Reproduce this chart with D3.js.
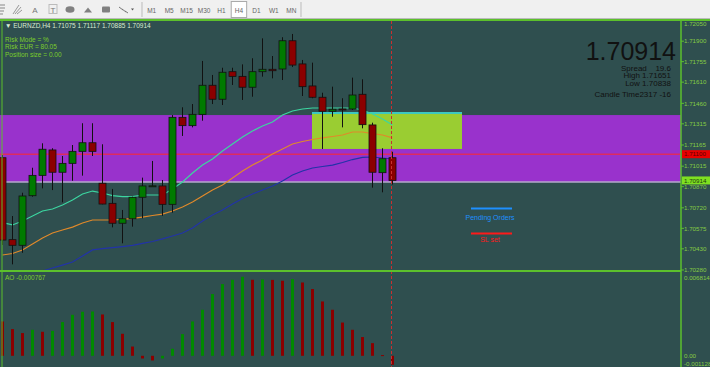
<!DOCTYPE html>
<html>
<head>
<meta charset="utf-8">
<script src="https://cdn.jsdelivr.net/npm/d3@7"></script>
<style>
body{margin:0;background:#2f4f4f;overflow:hidden;}
svg text{font-family:"Liberation Sans",Arial,sans-serif;}
</style>
</head>
<body>
<script>
// EURNZD H4 candles, oldest -> newest
var opens  = [1.71075,1.70495,1.70455,1.70806,1.70950,1.71130,1.70972,1.71035,1.71120,1.71181,1.70894,1.70752,1.70611,1.70643,1.70795,1.70875,1.70875,1.70745,1.71361,1.71302,1.71382,1.71588,1.71489,1.71684,1.71651,1.71574,1.71684,1.71701,1.71703,1.71903,1.71739,1.71583,1.71503,1.71404,1.71420,1.71420,1.71524,1.71307,1.70969,1.71075];
var highs  = [1.71094,1.70662,1.70827,1.71004,1.71177,1.71142,1.71087,1.71165,1.71319,1.71319,1.71170,1.70854,1.70705,1.70799,1.70934,1.71052,1.70917,1.71377,1.71432,1.71455,1.71760,1.71661,1.71712,1.71712,1.71736,1.71779,1.71920,1.71795,1.71928,1.71951,1.71767,1.71748,1.71535,1.71578,1.71496,1.71642,1.71630,1.71323,1.71142,1.71117];
var lows   = [1.70457,1.70320,1.70402,1.70799,1.70858,1.70846,1.70759,1.70912,1.70948,1.71087,1.70745,1.70582,1.70469,1.70587,1.70646,1.70870,1.70664,1.70686,1.71229,1.71290,1.71337,1.71455,1.71448,1.71590,1.71484,1.71507,1.71649,1.71637,1.71625,1.71717,1.71512,1.71496,1.71137,1.71365,1.71290,1.71413,1.71283,1.70863,1.70830,1.70885];
var closes = [1.70492,1.70455,1.70804,1.70950,1.71135,1.70972,1.71035,1.71120,1.71181,1.71120,1.70747,1.70611,1.70643,1.70795,1.70875,1.70876,1.70745,1.71361,1.71302,1.71382,1.71588,1.71489,1.71680,1.71651,1.71574,1.71684,1.71701,1.71691,1.71903,1.71731,1.71578,1.71503,1.71404,1.71418,1.71419,1.71519,1.71309,1.70972,1.71068,1.70914];

// moving averages
var maFast = [1.70616,1.70599,1.70627,1.70662,1.70698,1.70712,1.70740,1.70776,1.70818,1.70839,1.70825,1.70807,1.70800,1.70800,1.70811,1.70811,1.70811,1.70853,1.70903,1.70967,1.71023,1.71066,1.71122,1.71172,1.71222,1.71264,1.71300,1.71328,1.71377,1.71406,1.71420,1.71427,1.71427,1.71427,1.71427,1.71427,1.71413,1.71385,1.71349,1.71307];
var maMid  = [1.70386,1.70397,1.70422,1.70464,1.70507,1.70542,1.70563,1.70584,1.70613,1.70634,1.70634,1.70634,1.70638,1.70645,1.70655,1.70666,1.70676,1.70698,1.70726,1.70761,1.70804,1.70846,1.70882,1.70931,1.70981,1.71023,1.71059,1.71101,1.71137,1.71172,1.71190,1.71204,1.71215,1.71225,1.71236,1.71257,1.71257,1.71246,1.71236,1.71215];
var maSlow = [1.70138,1.70181,1.70216,1.70245,1.70273,1.70294,1.70315,1.70337,1.70379,1.70422,1.70432,1.70439,1.70446,1.70454,1.70468,1.70482,1.70500,1.70521,1.70542,1.70577,1.70627,1.70669,1.70705,1.70747,1.70786,1.70818,1.70846,1.70875,1.70910,1.70953,1.70981,1.71002,1.71013,1.71023,1.71041,1.71062,1.71077,1.71080,1.71073,1.71066];

// awesome oscillator
var ao = [0.00293,0.00228,0.00194,0.00222,0.00205,0.00213,0.00288,0.00350,0.00376,0.00378,0.00353,0.00288,0.00188,0.00079,-0.00023,-0.00040,-0.00023,0.00060,0.00185,0.00293,0.00393,0.00527,0.00612,0.00649,0.00675,0.00649,0.00652,0.00648,0.00641,0.00655,0.00626,0.00570,0.00464,0.00393,0.00284,0.00222,0.00160,0.00108,0.00006,-0.000767];

var priceTicks = ["1.72050","1.71900","1.71755","1.71610","1.71460","1.71315","1.71165","1.71015","1.70870","1.70720","1.70575","1.70430","1.70280"];
var aoTicks = ["0.006814","0.00","-0.001128"];
var timeframes = ["M1","M5","M15","M30","H1","H4","D1","W1","MN"];

var zone = [1.71377, 1.70903];      // purple zone top/bottom
var box = [1.71392, 1.71137];       // lime box top/bottom
var boxBars = [31, 46];
var redLevel = 1.71100;
var lastPrice = 1.70914;

var width = 710, height = 367;
var axisX = 681;
var green = "#5cc02c", labelCol = "#86cc44";

var svg = d3.select("body").append("svg")
    .attr("width", width)
    .attr("height", height);

var x = d3.scaleLinear().domain([0, 39]).range([2.5, 392.5]);
var y = d3.scaleLinear().domain([1.70280, 1.72050]).range([270, 20]);
var aoY = d3.scaleLinear().domain([-0.001128, 0.006814]).range([369, 276]);

svg.append("rect").attr("width", width).attr("height", height).attr("fill", "#2f4f4f");

var defs = svg.append("defs");
defs.append("clipPath").attr("id", "mainClip").append("rect")
    .attr("x", 0).attr("y", 21).attr("width", axisX).attr("height", 249);
defs.append("clipPath").attr("id", "aoClip").append("rect")
    .attr("x", 0).attr("y", 272).attr("width", axisX).attr("height", 95);

var main = svg.append("g").attr("clip-path", "url(#mainClip)");

//zone + box
main.append("rect")
    .attr("x", 0).attr("width", axisX)
    .attr("y", y(zone[0])).attr("height", y(zone[1]) - y(zone[0]))
    .attr("fill", "#9932cc");
main.append("line")
    .attr("x1", 0).attr("x2", axisX)
    .attr("y1", y(zone[1])).attr("y2", y(zone[1]))
    .attr("stroke", "#b4aacb").attr("stroke-width", 1.5);

main.append("rect")
    .attr("x", x(boxBars[0]) - 0.5).attr("width", x(boxBars[1]) - x(boxBars[0]))
    .attr("y", y(box[0])).attr("height", y(box[1]) - y(box[0]))
    .attr("fill", "#9acd32");
main.append("line")
    .attr("x1", x(boxBars[0]) - 0.5).attr("x2", x(boxBars[1]) - 0.5)
    .attr("y1", y(box[0])).attr("y2", y(box[0]))
    .attr("stroke", "#3cc8c0").attr("stroke-width", 2);

main.append("line")
    .attr("x1", 0).attr("x2", axisX)
    .attr("y1", y(redLevel)).attr("y2", y(redLevel))
    .attr("stroke", "#ff2a2a").attr("stroke-width", 1);

//moving averages
var line = d3.line().x(function(d, i) { return x(i); }).y(function(d) { return y(d); });
[[maSlow, "#2233a8"], [maMid, "#e0892a"], [maFast, "#3cd6a0"]].forEach(function(m) {
    main.append("path").datum(m[0])
        .attr("d", line)
        .attr("fill", "none")
        .attr("stroke", m[1])
        .attr("stroke-width", 1.2);
});

//candles
var idx = d3.range(opens.length);
main.selectAll(".wick").data(idx).enter().append("line")
    .attr("x1", function(i) { return x(i); }).attr("x2", function(i) { return x(i); })
    .attr("y1", function(i) { return y(highs[i]); })
    .attr("y2", function(i) { return y(lows[i]); })
    .attr("stroke", "#111").attr("stroke-width", 1);

main.selectAll(".body").data(idx).enter().append("rect")
    .attr("x", function(i) { return x(i) - 3.5; })
    .attr("width", 7)
    .attr("y", function(i) { return y(Math.max(opens[i], closes[i])); })
    .attr("height", function(i) { return Math.max(1, Math.abs(y(opens[i]) - y(closes[i]))); })
    .attr("fill", function(i) { return closes[i] >= opens[i] ? "#007a00" : "#8b0000"; })
    .attr("stroke", "#111").attr("stroke-width", 0.8);

//AO
var aoG = svg.append("g").attr("clip-path", "url(#aoClip)");
aoG.selectAll("rect").data(idx).enter().append("rect")
    .attr("x", function(i) { return x(i) - 1.5; })
    .attr("width", 3)
    .attr("y", function(i) { return Math.min(aoY(ao[i]), aoY(0)); })
    .attr("height", function(i) { return Math.max(1, Math.abs(aoY(ao[i]) - aoY(0))); })
    .attr("fill", function(i) { return i > 0 && ao[i] > ao[i - 1] ? "#008a00" : "#8b0000"; });

//current bar marker
svg.append("line")
    .attr("x1", x(39) - 1).attr("x2", x(39) - 1)
    .attr("y1", 21).attr("y2", height)
    .attr("stroke", "#c83030").attr("stroke-width", 1)
    .attr("stroke-dasharray", "3,2");

//pending orders objects
svg.append("line").attr("x1", 471).attr("x2", 512).attr("y1", 208.5).attr("y2", 208.5)
    .attr("stroke", "#1e90ff").attr("stroke-width", 2);
svg.append("text").attr("x", 490).attr("y", 220).attr("text-anchor", "middle")
    .attr("font-size", "7px").attr("fill", "#1e90ff").text("Pending Orders");
svg.append("line").attr("x1", 471).attr("x2", 512).attr("y1", 233.5).attr("y2", 233.5)
    .attr("stroke", "#ff1a1a").attr("stroke-width", 2);
svg.append("text").attr("x", 490).attr("y", 242).attr("text-anchor", "middle")
    .attr("font-size", "7px").attr("fill", "#ff1a1a").text("SL set");

//info text top left
svg.append("text").attr("x", 5).attr("y", 27.5).attr("font-size", "6.5px").attr("fill", "#d8ecd0")
    .text("\u25BC EURNZD,H4  1.71075 1.71117 1.70885 1.70914");
["Risk Mode =  %", "Risk EUR  =  80.05", "Position size  =  0.00"].forEach(function(t, i) {
    svg.append("text").attr("x", 5).attr("y", 41.5 + i * 7.8)
        .attr("font-size", "6.5px").attr("fill", "#7ccd2c").text(t);
});
svg.append("text").attr("x", 5).attr("y", 280).attr("font-size", "6.5px").attr("fill", "#7ccd2c")
    .text("AO -0.000767");

//big price block
svg.append("text").attr("x", 676).attr("y", 60).attr("text-anchor", "end")
    .attr("font-size", "25px").attr("fill", "#111").text("1.70914");
var info = svg.append("g").attr("font-size", "8px").attr("fill", "#111");
info.append("text").attr("x", 621).attr("y", 70.5).text("Spread");
info.append("text").attr("x", 671).attr("y", 70.5).attr("text-anchor", "end").text("19.6");
info.append("text").attr("x", 671).attr("y", 78).attr("text-anchor", "end").text("High 1.71651");
info.append("text").attr("x", 671).attr("y", 85.5).attr("text-anchor", "end").text("Low 1.70838");
info.append("text").attr("x", 671).attr("y", 96.5).attr("text-anchor", "end").text("Candle Time2317 -16");

//frame
svg.append("line").attr("x1", 0).attr("x2", width).attr("y1", 20).attr("y2", 20)
    .attr("stroke", green).attr("stroke-width", 2);
svg.append("line").attr("x1", 0).attr("x2", axisX).attr("y1", 271).attr("y2", 271)
    .attr("stroke", green).attr("stroke-width", 2);
svg.append("line").attr("x1", 2).attr("x2", 2).attr("y1", 20).attr("y2", height)
    .attr("stroke", green).attr("stroke-width", 1);
svg.append("line").attr("x1", axisX).attr("x2", axisX).attr("y1", 20).attr("y2", height)
    .attr("stroke", green).attr("stroke-width", 1.5);

//price axis
var ax = svg.append("g").attr("font-size", "6.2px");
priceTicks.forEach(function(t) {
    var yy = y(+t);
    ax.append("line").attr("x1", axisX).attr("x2", axisX + 3).attr("y1", yy).attr("y2", yy)
        .attr("stroke", green);
    ax.append("text").attr("x", 684).attr("y", Math.max(yy, 23.5)).attr("dy", "0.35em")
        .attr("fill", labelCol).text(t);
});
aoTicks.forEach(function(t) {
    var yy = Math.max(278, Math.min(364, aoY(+t)));
    ax.append("text").attr("x", 684).attr("y", yy).attr("dy", "0.35em")
        .attr("fill", labelCol).text(t);
});
ax.append("rect").attr("x", 682).attr("y", y(redLevel) - 4).attr("width", 28).attr("height", 8)
    .attr("fill", "#e80000");
ax.append("text").attr("x", 684).attr("y", y(redLevel)).attr("dy", "0.35em")
    .attr("fill", "#5a0000").text(redLevel.toFixed(5));
ax.append("rect").attr("x", 682).attr("y", y(lastPrice) - 4).attr("width", 28).attr("height", 8)
    .attr("fill", "#7fe020");
ax.append("text").attr("x", 684).attr("y", y(lastPrice)).attr("dy", "0.35em")
    .attr("fill", "#1a3a10").text(lastPrice.toFixed(5));

//toolbar
var tb = svg.append("g");
tb.append("rect").attr("width", width).attr("height", 18.5).attr("fill", "#f0f0f0");
tb.append("line").attr("x1", 0).attr("x2", width).attr("y1", 18.5).attr("y2", 18.5).attr("stroke", "#bbb");
tb.append("path").attr("d", "M0,5H5M0,8H5M0,11H4M0,14H3").attr("stroke", "#888").attr("fill", "none");
tb.append("path").attr("d", "M13,14L19,5M15,14L21,7M17,14L22,10").attr("stroke", "#999").attr("fill", "none");
tb.append("text").attr("x", 35).attr("y", 13).attr("text-anchor", "middle").attr("font-size", "8px").attr("fill", "#777").text("A");
tb.append("rect").attr("x", 49).attr("y", 4.5).attr("width", 8).attr("height", 9).attr("fill", "none").attr("stroke", "#bbb");
tb.append("text").attr("x", 53).attr("y", 12.5).attr("text-anchor", "middle").attr("font-size", "8px").attr("fill", "#777").text("T");
tb.append("ellipse").attr("cx", 70).attr("cy", 9.5).attr("rx", 4.5).attr("ry", 3.2).attr("fill", "#808080");
tb.append("path").attr("d", "M84,12.5L88,7.5L92,12.5Z").attr("fill", "#808080");
tb.append("rect").attr("x", 102).attr("y", 6.5).attr("width", 8).attr("height", 6).attr("rx", 1).attr("fill", "#808080");
tb.append("path").attr("d", "M119,7L123,10M122,9L126,12M125,11L128,13").attr("stroke", "#777").attr("fill", "none");
tb.append("path").attr("d", "M131,8.5L134,8.5L132.5,10.5Z").attr("fill", "#555");
tb.append("line").attr("x1", 142).attr("x2", 142).attr("y1", 2).attr("y2", 17).attr("stroke", "#bbb");
tb.append("line").attr("x1", 301).attr("x2", 301).attr("y1", 2).attr("y2", 17).attr("stroke", "#bbb");

var tf = d3.scaleBand().domain(timeframes).range([143, 300]);
tb.append("rect").attr("x", tf("H4") + 1).attr("y", 1.5).attr("width", tf.bandwidth() - 2).attr("height", 16)
    .attr("fill", "#fff").attr("stroke", "#aaa");
tb.selectAll(".tf").data(timeframes).enter().append("text")
    .attr("x", function(d) { return tf(d) + tf.bandwidth() / 2; })
    .attr("y", 12.5)
    .attr("text-anchor", "middle")
    .attr("font-size", "6.5px")
    .attr("fill", "#666")
    .text(function(d) { return d; });
</script>
</body>
</html>
